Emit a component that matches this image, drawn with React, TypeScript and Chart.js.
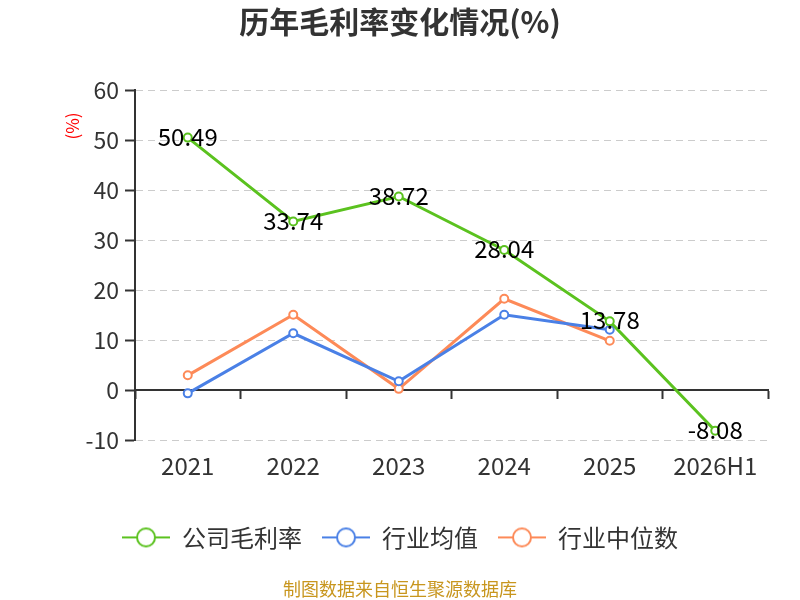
import { Chart, Plugin, registerables } from "chart.js";
import { useEffect, useRef } from "react";

Chart.register(...registerables);

const FONT = "'Noto Sans CJK SC', 'Noto Sans', sans-serif";

const categories = ["2021", "2022", "2023", "2024", "2025", "2026H1"];
const companyMargin = [50.49, 33.74, 38.72, 28.04, 13.78, -8.08];
const industryAvg = [-0.6, 11.4, 1.8, 15.1, 12.1, null];
const industryMedian = [3.0, 15.1, 0.3, 18.3, 9.9, null];
const seriesNames = ["公司毛利率", "行业均值", "行业中位数"];
const seriesColors = ["#5bc21f", "#4a80e6", "#fd8a58"];
const yMin = -10;
const yMax = 60;
const yStep = 10;

// line + hollow circle, like the echarts legend icon
const makeIcon = (color: string) => {
    const c = document.createElement("canvas");
    c.width = 48;
    c.height = 24;
    const ctx = c.getContext("2d")!;
    ctx.strokeStyle = color;
    ctx.lineWidth = 2;
    ctx.beginPath();
    ctx.moveTo(0, 12);
    ctx.lineTo(48, 12);
    ctx.stroke();
    ctx.beginPath();
    ctx.arc(24, 12, 9, 0, Math.PI * 2);
    ctx.fillStyle = "#fff";
    ctx.fill();
    ctx.stroke();
    return c;
};

const extras: Plugin<"line"> = {
    id: "extras",
    afterDatasetsDraw(chart) {
        const { ctx, chartArea } = chart;
        const meta = chart.getDatasetMeta(0);
        ctx.save();
        ctx.font = `24px ${FONT}`;
        ctx.fillStyle = "#000";
        ctx.textAlign = "center";
        ctx.textBaseline = "middle";
        meta.data.forEach((pt, i) => {
            ctx.fillText(companyMargin[i].toFixed(2), pt.x, pt.y - 1);
        });
        // unit label
        ctx.translate(73, chartArea.top + 36);
        ctx.rotate(-Math.PI / 2);
        ctx.fillStyle = "#ff0000";
        ctx.font = `17px ${FONT}`;
        ctx.fillText("(%)", 0, 0);
        ctx.restore();
    },
};

export default function App() {
    const canvasRef = useRef<HTMLCanvasElement | null>(null);

    useEffect(() => {
        const canvas = canvasRef.current;
        if (!canvas) return;
        const icons = seriesColors.map(makeIcon);
        const lineStyle = (i: number) => ({
            borderColor: seriesColors[i],
            backgroundColor: seriesColors[i],
            borderWidth: 3,
            pointRadius: 4,
            pointHoverRadius: 4,
            pointBorderWidth: 2,
            pointBackgroundColor: "#fff",
            pointBorderColor: seriesColors[i],
            tension: 0,
        });

        const chart = new Chart(canvas, {
            type: "line",
            data: {
                labels: categories,
                datasets: [
                    { label: seriesNames[0], data: companyMargin, ...lineStyle(0) },
                    { label: seriesNames[1], data: industryAvg, ...lineStyle(1) },
                    { label: seriesNames[2], data: industryMedian, ...lineStyle(2) },
                ],
            },
            options: {
                animation: false,
                responsive: true,
                maintainAspectRatio: false,
                font: { family: FONT },
                layout: { padding: { left: 32, right: 32, top: 0, bottom: 0 } },
                scales: {
                    x: {
                        type: "category",
                        position: { y: 0 },
                        offset: true,
                        grid: {
                            display: true,
                            drawOnChartArea: false,
                            drawTicks: true,
                            tickLength: 8,
                            tickColor: "#333",
                            tickWidth: 2,
                            offset: true,
                        },
                        border: { color: "#333", width: 2 },
                        ticks: { display: false },
                    },
                    x2: {
                        type: "category",
                        position: "bottom",
                        offset: true,
                        grid: { display: false, drawTicks: false },
                        border: { display: false },
                        ticks: {
                            color: "#333",
                            font: { size: 24, family: FONT },
                            padding: 11,
                        },
                    },
                    y: {
                        min: yMin,
                        max: yMax,
                        afterFit: (s) => {
                            s.width = 103;
                        },
                        ticks: {
                            stepSize: yStep,
                            color: "#333",
                            font: { size: 23, family: FONT },
                            padding: 6,
                        },
                        grid: {
                            color: (c) => (c.tick && c.tick.value === 0 ? "rgba(0,0,0,0)" : "#ccc"),
                            lineWidth: 1,
                            tickColor: "#333",
                            tickWidth: 2,
                            tickLength: 10,
                            tickBorderDash: [],
                        },
                        border: { color: "#333", width: 2, dash: [7, 5] },
                    },
                },
                plugins: {
                    title: {
                        display: true,
                        text: "历年毛利率变化情况(%)",
                        color: "#333",
                        font: { size: 30, weight: "bold", family: FONT },
                        padding: { top: 4, bottom: 50 },
                    },
                    legend: {
                        position: "bottom",
                        title: {
                            display: true,
                            text: " ",
                            font: { size: 1 },
                            padding: { top: 13, bottom: 0 },
                        },
                        labels: {
                            usePointStyle: true,
                            pointStyleWidth: 48,
                            color: "#333",
                            font: { size: 24, family: FONT },
                            padding: 20,
                            generateLabels: (ch) =>
                                Chart.defaults.plugins.legend.labels
                                    .generateLabels(ch)
                                    .map((l, i) => ({ ...l, pointStyle: icons[i] })),
                        },
                    },
                    subtitle: {
                        display: true,
                        position: "bottom",
                        text: "制图数据来自恒生聚源数据库",
                        color: "#c8961e",
                        font: { size: 18, family: FONT },
                        padding: { top: 19, bottom: 0 },
                    },
                    tooltip: { enabled: false },
                },
            },
            plugins: [extras],
        });

        return () => chart.destroy();
    }, []);

    return (
        <div style={{ position: "fixed", left: 0, top: 0, width: 800, height: 600 }}>
            <canvas ref={canvasRef}></canvas>
        </div>
    );
}
